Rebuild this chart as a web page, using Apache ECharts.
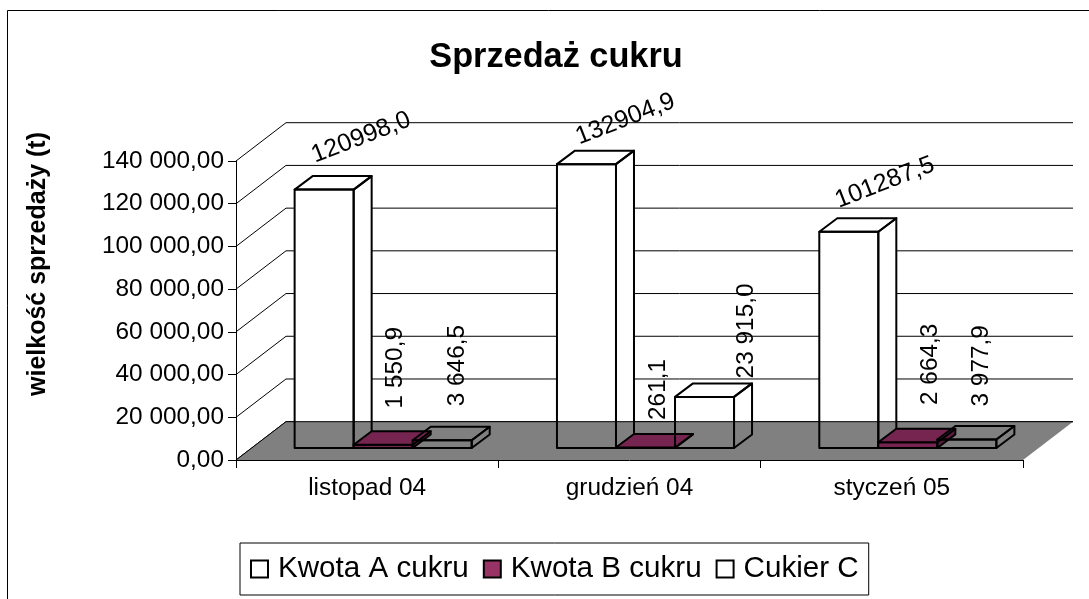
<!DOCTYPE html>
<html>
<head>
<meta charset="utf-8">
<style>
  html, body { margin: 0; padding: 0; background: #fff; }
  #chart { width: 1089px; height: 599px; }
</style>
</head>
<body>
<div id="chart"></div>
<script src="https://cdn.jsdelivr.net/npm/echarts@6/dist/echarts.min.js"></script>
<script>
const categories = ["listopad 04", "grudzień 04", "styczeń 05"];
const seriesNames = ["Kwota A cukru", "Kwota B cukru", "Cukier C"];
const kwotaA = [120998.0, 132904.9, 101287.5];
const kwotaB = [1550.9, 261.1, 2664.3];
const cukierC = [3646.5, 23915.0, 3977.9];
const kwotaALabels = ["120998,0", "132904,9", "101287,5"];
const kwotaBLabels = ["1 550,9", "261,1", "2 664,3"];
const cukierCLabels = ["3 646,5", "23 915,0", "3 977,9"];
const yTicks = [0, 20000, 40000, 60000, 80000, 100000, 120000, 140000];

const FONT = '"Liberation Sans", Arial, sans-serif';

// fake 3D: the wall and floor go back by this many pixels
const DEPTH_X = 50;
const DEPTH_Y = 38.3;
const BAR_DEPTH_X = 18;
const BAR_DEPTH_Y = 13.5;
const BAR_SHIFT_X = 16;
const BAR_SHIFT_Y = 12;
const BAR_BAND = 0.225;

// the labels were moved by hand in the original, so each has its own offset from the bar top
const labelOffsets = [
  [[37, -52], [39, -45], [36, -49]],
  [[12.5, -77], [12.5, -58], [22, -78]],
  [[15, -74.6], [42, -66], [14, -73.7]],
];
const labelRotation = [0.37, Math.PI / 2, Math.PI / 2];
const labelFontSize = [25, 24.4, 24.4];

function barBox(api, cat, idx, value) {
  const bottom = api.coord([cat, 0]);
  const top = api.coord([cat, value]);
  const w = api.size([1, 0])[0] * BAR_BAND;
  const x0 = bottom[0] + BAR_SHIFT_X + (idx - 1.5) * w;
  const x1 = x0 + w;
  const y0 = bottom[1] - BAR_SHIFT_Y;
  const y1 = top[1] - BAR_SHIFT_Y;
  const dx = BAR_DEPTH_X;
  const dy = BAR_DEPTH_Y;
  return {
    front: [[x0, y1], [x1, y1], [x1, y0], [x0, y0]],
    side: [[x1, y1], [x1 + dx, y1 - dy], [x1 + dx, y0 - dy], [x1, y0]],
    top: [[x0, y1], [x0 + dx, y1 - dy], [x1 + dx, y1 - dy], [x1, y1]],
    cx: (x0 + x1) / 2,
    cy: y1,
  };
}

function poly(points, style) {
  return { type: "polygon", shape: { points: points }, style: style };
}

// white faces go under the floor, that is how the original looks
function renderFaces(params, api) {
  const box = barBox(api, api.value(0), api.value(1), api.value(2));
  const white = { fill: "#fff", stroke: null };
  return {
    type: "group",
    children: [poly(box.front, white), poly(box.side, white), poly(box.top, white)],
  };
}

function renderWall(params, api) {
  const w = api.size([1, 0])[0];
  const left = api.coord([0, api.value(1)]);
  const right = api.coord([categories.length - 1, api.value(1)]);
  const x0 = left[0] - w / 2;
  const x1 = right[0] + w / 2;
  const y = left[1];
  return {
    type: "polyline",
    shape: {
      points: [[x0, y], [x0 + DEPTH_X, y - DEPTH_Y], [x1 + DEPTH_X, y - DEPTH_Y]],
    },
    style: { fill: null, stroke: "#000", lineWidth: 1 },
  };
}

function renderFloor(params, api) {
  const w = api.size([1, 0])[0];
  const left = api.coord([0, 0]);
  const right = api.coord([categories.length - 1, 0]);
  const x0 = left[0] - w / 2;
  const x1 = right[0] + w / 2;
  const y = left[1];
  return {
    type: "group",
    children: [
      poly(
        [[x0, y], [x0 + DEPTH_X, y - DEPTH_Y], [x1 + DEPTH_X, y - DEPTH_Y], [x1, y]],
        { fill: "#808080", stroke: null }
      ),
      {
        type: "polyline",
        shape: { points: [[x0, y], [x0 + DEPTH_X, y - DEPTH_Y], [x1 + DEPTH_X, y - DEPTH_Y]] },
        style: { fill: null, stroke: "#000", lineWidth: 1 },
      },
    ],
  };
}

function makeBarRenderer(idx, labels, fills) {
  return function (params, api) {
    const cat = api.value(0);
    const box = barBox(api, cat, idx, api.value(1));
    const off = labelOffsets[idx][cat];
    const line = { stroke: "#000", lineWidth: 2, lineJoin: "round" };
    return {
      type: "group",
      children: [
        poly(box.front, Object.assign({ fill: fills[0] }, line)),
        poly(box.side, Object.assign({ fill: fills[1] }, line)),
        poly(box.top, Object.assign({ fill: fills[0] }, line)),
        {
          type: "text",
          x: box.cx + off[0],
          y: box.cy + off[1],
          rotation: labelRotation[idx],
          z2: 10,
          style: {
            text: labels[cat],
            font: labelFontSize[idx] + "px " + FONT,
            fill: "#000",
            align: "center",
            verticalAlign: "middle",
          },
        },
      ],
    };
  };
}

const faceData = [];
categories.forEach((c, i) => {
  faceData.push([i, 0, kwotaA[i]]);
  faceData.push([i, 2, cukierC[i]]);
});

const option = {
  animation: false,
  backgroundColor: "#fff",
  title: {
    text: "Sprzedaż cukru",
    left: 551,
    top: 36,
    textAlign: "center",
    textStyle: { fontFamily: FONT, fontSize: 34.3, fontWeight: "bold", color: "#000" },
  },
  legend: {
    data: seriesNames,
    left: 240,
    top: 543,
    padding: [11, 10, 11, 10],
    itemWidth: 17,
    itemHeight: 17,
    itemGap: 14,
    icon: "rect",
    borderColor: "#000",
    borderWidth: 1,
    backgroundColor: "#fff",
    textStyle: { fontFamily: FONT, fontSize: 29.6, color: "#000", padding: [0, 0, 0, 5] },
  },
  grid: { left: 236, top: 161, width: 787, height: 299, containLabel: false },
  xAxis: {
    type: "category",
    data: categories,
    z: 10,
    axisLine: { lineStyle: { color: "#000", width: 1 } },
    axisTick: { show: true, length: 8, lineStyle: { color: "#000" } },
    axisLabel: { color: "#000", fontFamily: FONT, fontSize: 24.4, margin: 16 },
  },
  yAxis: {
    type: "value",
    min: 0,
    max: 140000,
    interval: 20000,
    z: 10,
    splitLine: { show: false },
    axisLine: { show: true, lineStyle: { color: "#000", width: 1 } },
    axisTick: { show: true, length: 8, lineStyle: { color: "#000" } },
    axisLabel: {
      color: "#000",
      fontFamily: FONT,
      fontSize: 24.4,
      margin: 12,
      formatter: (v) => {
        const s = String(v).replace(/\B(?=(\d{3})+$)/g, " ");
        return s + ",00";
      },
    },
  },
  graphic: [
    {
      type: "rect",
      silent: true,
      z: 0,
      shape: { x: 7.5, y: 10.5, width: 1300, height: 800 },
      style: { fill: null, stroke: "#000", lineWidth: 1 },
    },
    {
      type: "text",
      x: 38,
      y: 264,
      rotation: Math.PI / 2,
      style: {
        text: "wielkość sprzedaży (t)",
        font: "bold 25px " + FONT,
        fill: "#000",
        align: "center",
        verticalAlign: "middle",
      },
    },
  ],
  series: [
    {
      type: "custom",
      z: 1,
      silent: true,
      renderItem: renderWall,
      encode: { x: 0, y: 1 },
      data: yTicks.map((v) => [0, v]),
    },
    {
      type: "custom",
      z: 2,
      silent: true,
      renderItem: renderFaces,
      encode: { x: 0, y: 2 },
      data: faceData,
    },
    {
      type: "custom",
      z: 3,
      silent: true,
      renderItem: renderFloor,
      encode: { x: 0, y: 1 },
      data: [[0, 0]],
    },
    {
      type: "custom",
      name: seriesNames[0],
      z: 4,
      renderItem: makeBarRenderer(0, kwotaALabels, [null, null]),
      encode: { x: 0, y: 1 },
      itemStyle: { color: "#fff", borderColor: "#000", borderWidth: 2 },
      data: kwotaA.map((v, i) => [i, v]),
    },
    {
      type: "custom",
      name: seriesNames[1],
      z: 4,
      renderItem: makeBarRenderer(1, kwotaBLabels, ["#75254f", "#5a1c3d"]),
      encode: { x: 0, y: 1 },
      itemStyle: { color: "#993366", borderColor: "#000", borderWidth: 2 },
      data: kwotaB.map((v, i) => [i, v]),
    },
    {
      type: "custom",
      name: seriesNames[2],
      z: 4,
      renderItem: makeBarRenderer(2, cukierCLabels, [null, null]),
      encode: { x: 0, y: 1 },
      itemStyle: { color: "#fff", borderColor: "#000", borderWidth: 2 },
      data: cukierC.map((v, i) => [i, v]),
    },
  ],
};

const chart = echarts.init(document.getElementById("chart"));
chart.setOption(option);
</script>
</body>
</html>
